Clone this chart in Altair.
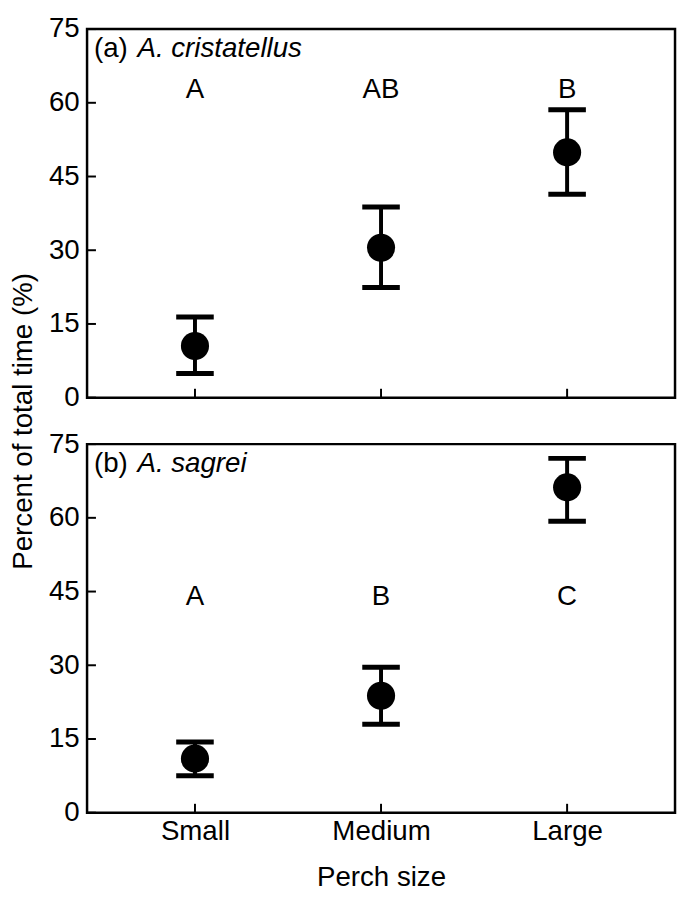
import altair as alt
import pandas as pd

categories = ["Small", "Medium", "Large"]

# Panel (a) A. cristatellus
a_mean = [10.5, 30.5, 49.9]
a_low = [4.9, 22.4, 41.4]
a_high = [16.4, 38.8, 58.6]
a_letters = ["A", "AB", "B"]
a_letter_y = 62.5

# Panel (b) A. sagrei
b_mean = [11.0, 23.8, 66.2]
b_low = [7.5, 18.0, 59.3]
b_high = [14.4, 29.6, 72.1]
b_letters = ["A", "B", "C"]
b_letter_y = 43.8

y_ticks = [0, 15, 30, 45, 60, 75]

FONT = "Liberation Sans, Arial, Helvetica, sans-serif"
W, H = 595, 373
GAP = 47
TS = 9


def panel(mean, low, high, letters, letter_y, tag, species, bottom, ytitle):
    df = pd.DataFrame({"cat": categories, "mean": mean, "low": low,
                       "high": high, "letter": letters,
                       "ly": [letter_y] * 3})
    tickdf = pd.DataFrame({"v": y_ticks})
    catdf = pd.DataFrame({"cat": categories})
    xscale = alt.Scale(type="point", domain=categories, padding=0.58)
    yscale = alt.Scale(domain=[0, 75], nice=False, zero=True)
    if bottom:
        xaxis = alt.Axis(title="Perch size", labelFontSize=28, titleFontSize=28,
                         labelAngle=0, ticks=False, labelPadding=5,
                         titlePadding=19, domain=False, grid=False,
                         labelColor="black", titleColor="black",
                         labelFont=FONT, titleFont=FONT,
                         titleFontWeight="normal")
    else:
        xaxis = alt.Axis(title=None, labels=False, ticks=False, domain=False,
                         grid=False)
    yargs = dict(values=y_ticks, labelFontSize=28, ticks=False,
                 labelPadding=8, domain=False, grid=False,
                 labelColor="black", labelFont=FONT)
    if ytitle:
        yaxis = alt.Axis(title="Percent of total time (%)", titleFontSize=28,
                         titleFont=FONT, titleColor="black",
                         titleFontWeight="normal", titleX=-64,
                         titleY=(2 * H + GAP) / 2, titleBaseline="middle",
                         titleAngle=-90, **yargs)
    else:
        yaxis = alt.Axis(title=None, **yargs)

    base = alt.Chart(df)
    x = alt.X("cat:N", sort=categories, scale=xscale, axis=xaxis)
    rule = base.mark_rule(color="black", strokeWidth=4).encode(
        x=x, y=alt.Y("low:Q", scale=yscale, axis=yaxis), y2="high:Q")
    cap_hi = base.mark_tick(color="black", orient="horizontal", size=38,
                            thickness=5, opacity=1).encode(x=x, y="high:Q")
    cap_lo = base.mark_tick(color="black", orient="horizontal", size=38,
                            thickness=5, opacity=1).encode(x=x, y="low:Q")
    pts = base.mark_point(filled=True, shape="circle", size=810, color="black",
                          opacity=1).encode(x=x, y="mean:Q")
    let = base.mark_text(fontSize=28, font=FONT, color="black",
                         baseline="middle").encode(x=x, y="ly:Q", text="letter:N")
    ytick = alt.Chart(tickdf).mark_rule(color="black", strokeWidth=2).encode(
        y=alt.Y("v:Q", scale=yscale), x=alt.value(0), x2=alt.value(TS))
    xtick = alt.Chart(catdf).mark_rule(color="black", strokeWidth=2).encode(
        x=alt.X("cat:N", sort=categories, scale=xscale),
        y=alt.value(H), y2=alt.value(H - TS))
    tagdf = pd.DataFrame({"t": [tag], "s": [species]})
    tag_t = alt.Chart(tagdf).mark_text(fontSize=28, font=FONT, color="black",
                                       align="left", baseline="middle").encode(
        x=alt.value(7), y=alt.value(20), text="t:N")
    sp_t = alt.Chart(tagdf).mark_text(fontSize=28, font=FONT, color="black",
                                      fontStyle="italic", align="left",
                                      baseline="middle").encode(
        x=alt.value(51), y=alt.value(20), text="s:N")
    return alt.layer(rule, cap_hi, cap_lo, pts, let, ytick, xtick, tag_t,
                     sp_t).properties(width=W, height=H)


top = panel(a_mean, a_low, a_high, a_letters, a_letter_y, "(a)",
            "A. cristatellus", False, True)
bot = panel(b_mean, b_low, b_high, b_letters, b_letter_y, "(b)",
            "A. sagrei", True, False)

chart = (alt.vconcat(top, bot, spacing=GAP, bounds="flush")
         .configure(padding=0, background="white")
         .configure_view(stroke="black", strokeWidth=2.5))

chart.save("out.html", embed_options={"renderer": "svg", "actions": False})
